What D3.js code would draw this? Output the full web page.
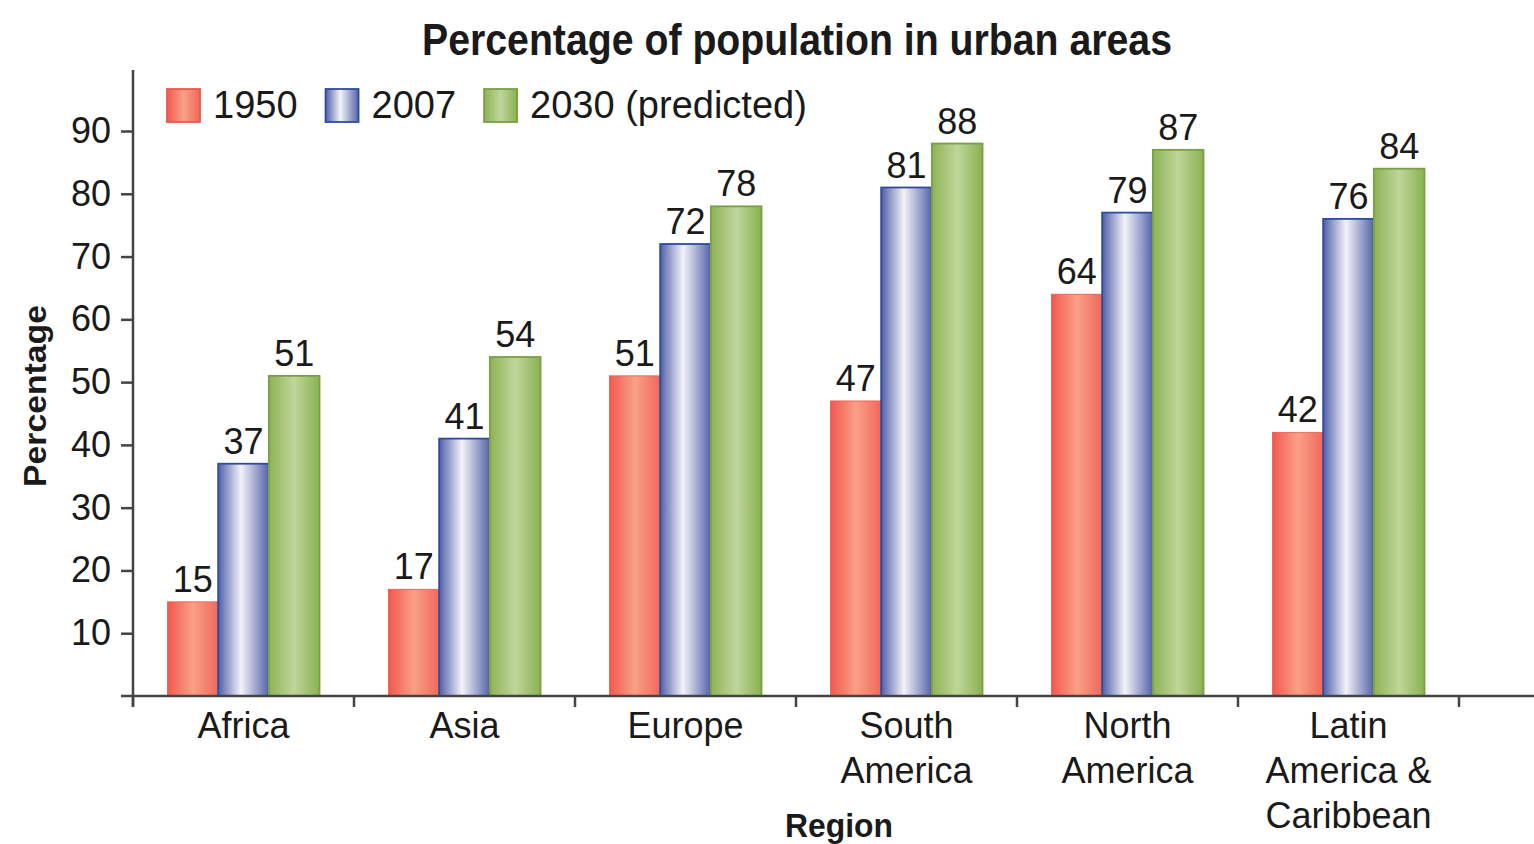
<!DOCTYPE html>
<html>
<head>
<meta charset="utf-8">
<script src="https://cdn.jsdelivr.net/npm/d3@7"></script>
<style>
  html, body { margin: 0; padding: 0; background: #fff; }
  svg { display: block; }
  text { font-family: "Liberation Sans", Arial, sans-serif; fill: #1a1a1a; }
</style>
</head>
<body>
<svg id="chart" width="1534" height="844"></svg>
<script>
// ---- Data ----
const categories = ["Africa", "Asia", "Europe", "South\nAmerica", "North\nAmerica", "Latin\nAmerica &\nCaribbean"];
const seriesNames = ["1950", "2007", "2030 (predicted)"];
const values1950 = [15, 17, 51, 47, 64, 42];
const values2007 = [37, 41, 72, 81, 77, 76];
const values2030 = [51, 54, 78, 88, 87, 84];
const labels1950 = ["15", "17", "51", "47", "64", "42"];
const labels2007 = ["37", "41", "72", "81", "79", "76"];
const labels2030 = ["51", "54", "78", "88", "87", "84"];
const yTicks = [10, 20, 30, 40, 50, 60, 70, 80, 90];

const seriesValues = [values1950, values2007, values2030];
const seriesLabels = [labels1950, labels2007, labels2030];

// ---- Setup ----
const svg = d3.select("#chart");
svg.append("rect").attr("width", 1534).attr("height", 844).attr("fill", "#fff");

const defs = svg.append("defs");
const grads = [
  {id: "gRed", stops: [[0, "#f2584d"], [0.5, "#f9a088"], [1, "#f0685a"]], stroke: "#ea5a4c"},
  {id: "gBlue", stops: [[0, "#4f5fa9"], [0.45, "#f3f3f9"], [1, "#5563aa"]], stroke: "#2f4c9c"},
  {id: "gGreen", stops: [[0, "#8db355"], [0.5, "#bfd69a"], [1, "#8ab152"]], stroke: "#7a9f45"}
];
grads.forEach(g => {
  const lg = defs.append("linearGradient").attr("id", g.id)
    .attr("x1", 0).attr("x2", 1).attr("y1", 0).attr("y2", 0);
  g.stops.forEach(s => lg.append("stop").attr("offset", s[0]).attr("stop-color", s[1]));
});

const x0 = 133, x1 = 1459;
const x = d3.scaleBand().domain(categories).range([x0, x1]).paddingInner(0).paddingOuter(0);
const bw = x.bandwidth();
const xs = d3.scaleBand().domain(seriesNames).range([bw * 0.156, bw * 0.844]).padding(0);
const y = d3.scaleLinear().domain([0, 90]).range([696, 131]);

// ---- Bars ----
seriesNames.forEach((s, si) => {
  const g = svg.append("g");
  const data = categories.map((c, i) => ({c, v: seriesValues[si][i], l: seriesLabels[si][i]}));
  g.selectAll("rect").data(data).join("rect")
    .attr("x", d => x(d.c) + xs(s))
    .attr("y", d => y(d.v))
    .attr("width", xs.bandwidth())
    .attr("height", d => y(0) - y(d.v))
    .attr("fill", `url(#${grads[si].id})`)
    .attr("stroke", grads[si].stroke)
    .attr("stroke-width", si === 0 ? 0.8 : 1.8);
  g.selectAll("text").data(data).join("text")
    .attr("x", d => x(d.c) + xs(s) + xs.bandwidth() / 2)
    .attr("y", d => y(d.v) - 10)
    .attr("text-anchor", "middle")
    .attr("font-size", 36)
    .text(d => d.l);
});

// ---- Y axis ----
const yAxis = d3.axisLeft(y).tickValues(yTicks).tickSize(12).tickPadding(10).tickSizeOuter(0);
const yg = svg.append("g").attr("transform", `translate(${x0},0)`).call(yAxis);
yg.select(".domain").remove();
yg.selectAll(".tick line").attr("stroke", "#444").attr("stroke-width", 2.5);
yg.selectAll(".tick text").attr("font-size", 36).attr("fill", "#1a1a1a")
  .attr("font-family", "'Liberation Sans', Arial, sans-serif");
svg.append("line").attr("x1", x0).attr("x2", x0).attr("y1", 70).attr("y2", 707)
  .attr("stroke", "#444").attr("stroke-width", 2.5);

// ---- X axis ----
svg.append("line").attr("x1", 121).attr("x2", 1534).attr("y1", y(0)).attr("y2", y(0))
  .attr("stroke", "#444").attr("stroke-width", 2.5);
const boundaries = categories.map(c => x(c)).concat([x1]);
svg.selectAll(".xtick").data(boundaries).join("line")
  .attr("x1", d => d).attr("x2", d => d)
  .attr("y1", y(0)).attr("y2", y(0) + 11)
  .attr("stroke", "#444").attr("stroke-width", 2.5);
categories.forEach(c => {
  const t = svg.append("text")
    .attr("x", x(c) + bw / 2).attr("y", 738)
    .attr("text-anchor", "middle").attr("font-size", 36);
  c.split("\n").forEach((line, i) => {
    t.append("tspan").attr("x", x(c) + bw / 2).attr("dy", i === 0 ? 0 : 45).text(line);
  });
});

// ---- Titles ----
svg.append("text").attr("x", 797).attr("y", 55).attr("text-anchor", "middle")
  .attr("font-size", 44).attr("font-weight", "bold")
  .attr("textLength", 750).attr("lengthAdjust", "spacingAndGlyphs")
  .text("Percentage of population in urban areas");
svg.append("text").attr("x", 839).attr("y", 837).attr("text-anchor", "middle")
  .attr("font-size", 34).attr("font-weight", "bold")
  .attr("textLength", 108).attr("lengthAdjust", "spacingAndGlyphs")
  .text("Region");
svg.append("text").attr("transform", "translate(46,396) rotate(-90)")
  .attr("text-anchor", "middle")
  .attr("font-size", 32).attr("font-weight", "bold")
  .attr("textLength", 182).attr("lengthAdjust", "spacingAndGlyphs")
  .text("Percentage");

// ---- Legend ----
let lx = 167;
seriesNames.forEach((s, si) => {
  svg.append("rect").attr("x", lx).attr("y", 89).attr("width", 33).attr("height", 33)
    .attr("fill", `url(#${grads[si].id})`).attr("stroke", grads[si].stroke).attr("stroke-width", 1.8);
  const t = svg.append("text").attr("x", lx + 46).attr("y", 118).attr("font-size", 38).text(s);
  lx = lx + 46 + t.node().getComputedTextLength() + 28;
});
</script>
</body>
</html>
